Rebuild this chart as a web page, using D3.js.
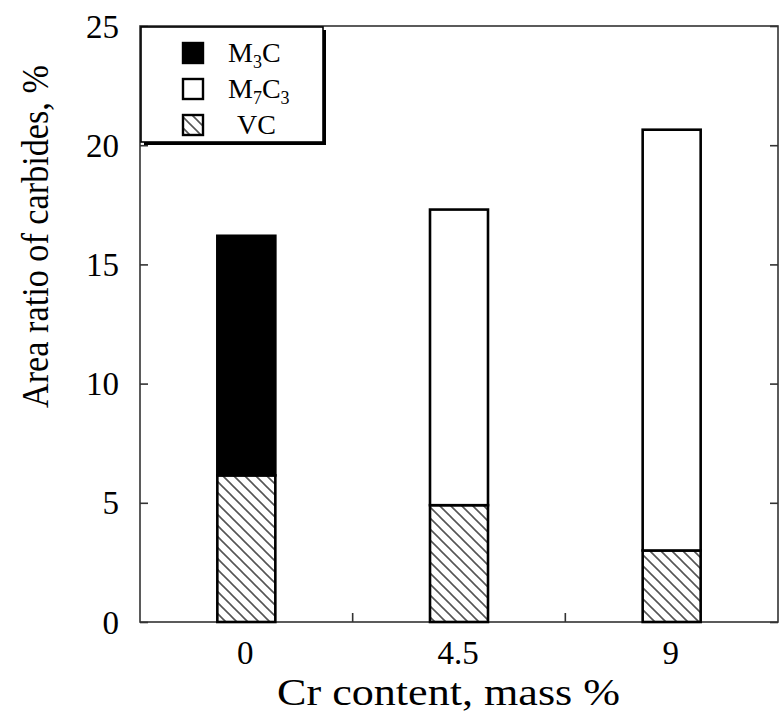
<!DOCTYPE html>
<html>
<head>
<meta charset="utf-8">
<script src="https://cdn.jsdelivr.net/npm/d3@7"></script>
<style>
  html, body { margin: 0; padding: 0; background: #fff; }
  svg { display: block; }
</style>
</head>
<body>
<svg id="chart" width="779" height="719"></svg>
<script>
// Cr content categories and carbide area ratios (%)
const categories = ["0", "4.5", "9"];
const vcValues   = [6.15, 4.9, 3.0];
const m3cValues  = [10.05, 0, 0];
const m7c3Values = [0, 12.4, 17.65];
const yTicks = [0, 5, 10, 15, 20, 25];

const FONT = "'Liberation Serif', 'Times New Roman', Times, 'DejaVu Serif', serif";

const svg = d3.select("#chart").style("font-family", FONT);
const W = 779, H = 719;
const margin = { left: 140, right: 1, top: 26, bottom: 97 };
const x0 = margin.left, x1 = W - margin.right;
const y0 = H - margin.bottom, y1 = margin.top;

const x = d3.scalePoint().domain(categories).range([x0, x1]).padding(0.5);
const y = d3.scaleLinear().domain([0, 25]).range([y0, y1]);
const barW = 58;

// diagonal hatch for VC
const defs = svg.append("defs");
const pat = defs.append("pattern")
  .attr("id", "hatch").attr("patternUnits", "userSpaceOnUse")
  .attr("width", 11).attr("height", 11);
pat.append("path")
  .attr("d", "M-1,-1 L12,12 M-6,5 L6,17 M5,-6 L17,6")
  .attr("stroke", "#555").attr("stroke-width", 1.6);

const rows = categories.map((c, i) => ({ cat: c, VC: vcValues[i], M3C: m3cValues[i], M7C3: m7c3Values[i] }));
const keys = ["VC", "M3C", "M7C3"];
const fills = { VC: "url(#hatch)", M3C: "#000", M7C3: "#fff" };
const stacked = d3.stack().keys(keys)(rows);

// frame
svg.append("rect")
  .attr("x", x0).attr("y", y1).attr("width", x1 - x0).attr("height", y0 - y1)
  .attr("fill", "none").attr("stroke", "#333").attr("stroke-width", 1.6);

// bars
stacked.forEach(layer => {
  svg.append("g").selectAll("rect")
    .data(layer.filter(d => d[1] - d[0] > 0))
    .join("rect")
    .attr("x", d => x(d.data.cat) - barW / 2)
    .attr("width", barW)
    .attr("y", d => y(d[1]))
    .attr("height", d => y(d[0]) - y(d[1]))
    .attr("fill", fills[layer.key])
    .attr("stroke", "#000")
    .attr("stroke-width", 2.6);
});

// left axis (inward ticks)
const yAxisL = svg.append("g").attr("transform", `translate(${x0},0)`)
  .call(d3.axisRight(y).tickValues(yTicks).tickSize(8).tickFormat(""));
yAxisL.select(".domain").remove();
yAxisL.selectAll("line").attr("stroke", "#333").attr("stroke-width", 1.6);

// right axis (inward ticks)
const yAxisR = svg.append("g").attr("transform", `translate(${x1},0)`)
  .call(d3.axisLeft(y).tickValues(yTicks).tickSize(8).tickFormat(""));
yAxisR.select(".domain").remove();
yAxisR.selectAll("line").attr("stroke", "#333").attr("stroke-width", 1.6);

// y tick labels
svg.append("g").selectAll("text")
  .data(yTicks).join("text")
  .attr("x", 119).attr("y", d => y(d))
  .attr("dy", "0.35em")
  .attr("text-anchor", "end")
  .attr("font-size", 33)
  .attr("fill", "#000")
  .text(d => d);

// x tick marks between categories
const bounds = categories.slice(1).map((c, i) => (x(categories[i]) + x(c)) / 2);
svg.append("g").selectAll("line")
  .data(bounds).join("line")
  .attr("x1", d => d).attr("x2", d => d)
  .attr("y1", y0).attr("y2", y0 - 9)
  .attr("stroke", "#333").attr("stroke-width", 1.6);

// x tick labels
svg.append("g").selectAll("text")
  .data(categories).join("text")
  .attr("x", d => x(d) - 1).attr("y", 664)
  .attr("text-anchor", "middle")
  .attr("font-size", 33)
  .attr("fill", "#000")
  .text(d => d);

// axis titles
svg.append("text")
  .attr("x", 277).attr("y", 705)
  .attr("font-size", 38)
  .attr("textLength", 343).attr("lengthAdjust", "spacingAndGlyphs")
  .attr("fill", "#000")
  .text("Cr content, mass %");

svg.append("text")
  .attr("transform", "translate(48,408) rotate(-90)")
  .attr("font-size", 37)
  .attr("textLength", 343).attr("lengthAdjust", "spacingAndGlyphs")
  .attr("fill", "#000")
  .text("Area ratio of carbides, %");

// legend
const lg = svg.append("g");
lg.append("rect").attr("x", 144).attr("y", 30).attr("width", 182).attr("height", 115)
  .attr("fill", "#000");
lg.append("rect").attr("x", 141).attr("y", 27).attr("width", 182).attr("height", 115)
  .attr("fill", "#fff").attr("stroke", "#000").attr("stroke-width", 1.6);

const legendItems = [
  { key: "M3C", y: 53, parts: [["M", 0], ["3", 1], ["C", 0]], tx: 228 },
  { key: "M7C3", y: 89, parts: [["M", 0], ["7", 1], ["C", 0], ["3", 1]], tx: 228 },
  { key: "VC", y: 125, parts: [["VC", 0]], tx: 237 }
];
legendItems.forEach(it => {
  lg.append("rect")
    .attr("x", 183).attr("y", it.y - 10).attr("width", 20).attr("height", 20)
    .attr("fill", fills[it.key]).attr("stroke", "#000").attr("stroke-width", 2.4);
  const t = lg.append("text").attr("x", it.tx).attr("y", it.y + 9)
    .attr("font-size", 28).attr("fill", "#000");
  let sub = false;
  it.parts.forEach(([s, isSub]) => {
    const span = t.append("tspan").text(s);
    if (isSub && !sub) { span.attr("dy", 6).attr("font-size", 18); sub = true; }
    else if (isSub) { span.attr("font-size", 18); }
    else if (sub) { span.attr("dy", -6); sub = false; }
  });
});
</script>
</body>
</html>
